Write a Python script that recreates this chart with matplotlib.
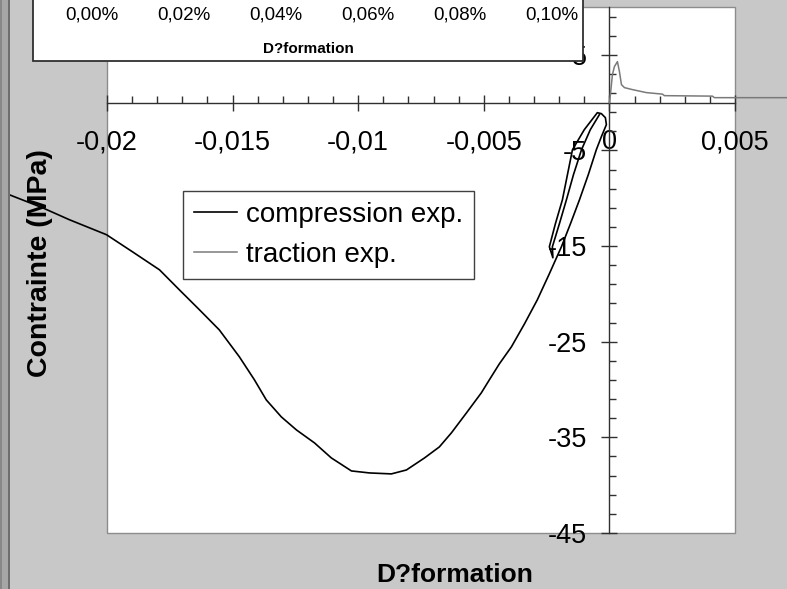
import numpy as np
import matplotlib
matplotlib.use('Agg')
import matplotlib.pyplot as plt
from matplotlib.patches import Rectangle
from matplotlib.ticker import MultipleLocator

plt.rcParams['font.family'] = 'Liberation Sans'

# compression test: small unload/reload loop near zero, then the main curve
comp_strain = [-0.00040, -0.00076, -0.00111, -0.00143, -0.00171, -0.00199, -0.00227, -0.00225,
               -0.00239, -0.00215, -0.00187, -0.00167, -0.00147, -0.00100, -0.00048, -0.00032,
               -0.00016, -0.00012, -0.00032, -0.00052, -0.00084, -0.00119, -0.00155, -0.00191,
               -0.00239, -0.00287, -0.00338, -0.00390, -0.00438, -0.00478, -0.00510, -0.00569,
               -0.00629, -0.00677, -0.00736, -0.00808, -0.00868, -0.00955, -0.01027, -0.01107,
               -0.01174, -0.01246, -0.01306, -0.01366, -0.01413, -0.01473, -0.01553, -0.01632,
               -0.01712, -0.01791, -0.01899, -0.02002, -0.02150, -0.02257, -0.02389]
comp_stress = [-1.26, -2.83, -4.92, -7.53, -10.15, -12.66, -15.07, -16.22,
               -15.07, -12.66, -10.15, -7.53, -4.92, -2.83, -1.05, -1.15,
               -1.57, -2.30, -3.56, -4.92, -7.53, -10.15, -12.66, -15.07,
               -17.89, -20.62, -23.13, -25.53, -27.31, -28.99, -30.35, -32.44,
               -34.53, -36.00, -37.15, -38.41, -38.82, -38.72, -38.51, -37.15,
               -35.58, -34.22, -32.86, -31.08, -28.99, -26.58, -23.76, -21.66,
               -19.57, -17.48, -15.59, -13.81, -12.24, -10.99, -9.63]

# traction test
trac_strain = [0.0, 0.00004, 0.00012, 0.00020, 0.00032, 0.00040, 0.00048, 0.00060, 0.00092,
               0.00147, 0.00211, 0.00219, 0.00410, 0.00418, 0.00713]
trac_stress = [0.0, 0.84, 2.93, 3.77, 4.29, 3.24, 1.88, 1.57, 1.36,
               1.05, 0.89, 0.73, 0.68, 0.52, 0.52]

xtick_vals = [-0.02, -0.015, -0.01, -0.005, 0, 0.005]
xtick_labels = ['-0,02', '-0,015', '-0,01', '-0,005', '0', '0,005']
ytick_vals = [5, -5, -15, -25, -35, -45]
ytick_labels = ['5', '-5', '-15', '-25', '-35', '-45']

inset_vals = [0.0, 0.02, 0.04, 0.06, 0.08, 0.10]
inset_labels = ['0,00%', '0,02%', '0,04%', '0,06%', '0,08%', '0,10%']

W, H = 787, 589
bg = '#c8c8c8'
fig = plt.figure(figsize=(W / 100, H / 100), dpi=100, facecolor=bg)

# window border strip on the left
fig.add_artist(Rectangle((0, 0), 8 / W, 1, transform=fig.transFigure, fc='#a6a6a6', ec='none'))
fig.add_artist(Rectangle((0, 0), 1.5 / W, 1, transform=fig.transFigure, fc='#888888', ec='none'))
fig.add_artist(Rectangle((8 / W, 0), 2 / W, 1, transform=fig.transFigure, fc='#6e6e6e', ec='none'))

ax = fig.add_axes([107 / W, 56 / H, 628 / W, 526 / H])
ax.set_facecolor('white')
ax.set_xlim(-0.02, 0.005)
ax.set_ylim(-45, 10)

l1, = ax.plot(comp_strain, comp_stress, color='black', lw=1.2, clip_on=False, zorder=3)
l2, = ax.plot(trac_strain, trac_stress, color='#7a7a7a', lw=1.1, clip_on=False, zorder=3)

for s in ['top', 'right']:
    ax.spines[s].set_visible(False)
ax.spines['left'].set_position(('data', 0))
ax.spines['bottom'].set_position(('data', 0))
for s in ['left', 'bottom']:
    ax.spines[s].set_color('#303030')
    ax.spines[s].set_linewidth(1.0)

# plot area border
ax.add_patch(Rectangle((0, 0), 1, 1, transform=ax.transAxes, fill=False,
                       ec='#8c8c8c', lw=1.0, clip_on=False, zorder=1))

ax.set_xticks(xtick_vals, labels=xtick_labels)
ax.set_yticks(ytick_vals, labels=ytick_labels)
ax.xaxis.set_minor_locator(MultipleLocator(0.001))
ax.yaxis.set_minor_locator(MultipleLocator(2, offset=1))
ax.tick_params(which='major', direction='inout', length=12, width=1, color='#303030', labelsize=19.5)
ax.tick_params(which='minor', direction='in', length=5, width=1, color='#303030')
ax.tick_params(axis='x', which='major', pad=13)
ax.tick_params(axis='y', which='major', pad=10)

ax.set_xlabel('D?formation', fontsize=19, fontweight='bold')
ax.xaxis.set_label_coords((455 - 107) / 628, (533 - 563) / 526)
ax.set_ylabel('Contrainte (MPa)', fontsize=20.5, fontweight='bold')
ax.yaxis.set_label_coords((53 - 107) / 628, (533 - 263) / 526)

leg = ax.legend([l1, l2], ['compression exp.', 'traction exp.'], loc='upper left',
                bbox_to_anchor=(183 / W, 1 - 191 / H), bbox_transform=fig.transFigure,
                fontsize=20, fancybox=False, framealpha=1, edgecolor='#404040',
                borderpad=0.4, handlelength=1.55, handletextpad=0.3, labelspacing=0.5,
                borderaxespad=0)
leg.get_frame().set_linewidth(1.0)

# overlapping inset chart (only its lower part is visible)
fig.add_artist(Rectangle((33 / W, 1 - 61 / H), 550 / W, 61 / H + 0.02, transform=fig.transFigure,
                         fc='white', ec='#303030', lw=1.3, zorder=5))
axi = fig.add_axes([33 / W, 1.0, 550 / W, 0.1], zorder=6)
axi.patch.set_visible(False)
for s in axi.spines.values():
    s.set_visible(False)
axi.set_xlim(-0.01283, 0.10674)
axi.set_yticks([])
axi.set_xticks(inset_vals, labels=inset_labels)
axi.tick_params(axis='x', length=0, pad=5, labelsize=13.5)
axi.set_xlabel('D?formation', fontsize=11, fontweight='bold', labelpad=13)

fig.savefig('out.png', dpi=100, facecolor=bg)
